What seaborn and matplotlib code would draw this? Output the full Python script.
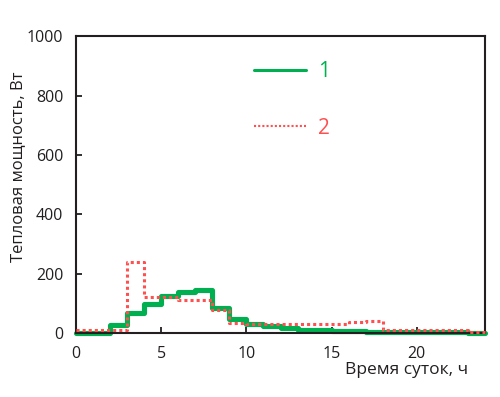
import matplotlib
matplotlib.use("Agg")
import matplotlib.pyplot as plt
from matplotlib.lines import Line2D
import pandas as pd
import seaborn as sns

# hourly heat power, W (step at each hour, last value repeated at 24 h)
hours = list(range(25))
series1 = [0, 0, 26, 68, 98, 125, 139, 145, 85, 48, 32, 24, 16, 11, 11, 7,
           7, 3, 3, 3, 3, 3, 3, 0, 0]
series2 = [12, 12, 12, 240, 120, 120, 110, 110, 77, 33, 30, 30, 30, 30, 30, 30,
           37, 42, 12, 12, 12, 12, 12, 2, 2]
names = ["1", "2"]
colors = ["#00b050", "#ff5050"]
ink = "#231f20"

sns.set_style("ticks")
plt.rcParams["font.family"] = ["Open Sans", "DejaVu Sans"]

df = pd.DataFrame({"t": hours * 2,
                   "p": series1 + series2,
                   "s": [names[0]] * len(hours) + [names[1]] * len(hours)})

fig = plt.figure(figsize=(5.0, 3.97), dpi=100)
ax = fig.add_axes([0.152, 0.161, 0.818, 0.748])

sns.lineplot(data=df[df.s == "1"], x="t", y="p", ax=ax, color=colors[0],
             lw=3.7, drawstyle="steps-post", legend=False, zorder=2,
             clip_on=False)
sns.lineplot(data=df[df.s == "2"], x="t", y="p", ax=ax, color=colors[1],
             lw=2.2, drawstyle="steps-post", legend=False, zorder=3,
             dashes=False, linestyle=(0, (1, 1)), clip_on=False)

ax.set_xlim(0, 24)
ax.set_ylim(0, 1000)
ax.set_xticks([0, 5, 10, 15, 20])
ax.set_yticks([0, 200, 400, 600, 800, 1000])
ax.tick_params(direction="in", length=4, width=1.3, colors=ink,
               labelsize=11.5, pad=9)
for sp in ax.spines.values():
    sp.set_visible(True)
    sp.set_color(ink)
    sp.set_linewidth(1.5)

ax.set_xlabel("Время суток, ч", fontsize=12.5, color=ink, ha="right", va="center")
ax.xaxis.set_label_coords(0.958, -0.125)
ax.set_ylabel("Тепловая мощность, Вт", fontsize=12, color=ink,
              ha="center", va="center")
ax.yaxis.set_label_coords(-0.142, 0.56)

handles = [Line2D([], [], color=colors[0], lw=2.2),
           Line2D([], [], color=colors[1], lw=1.5, linestyle=(0, (1, 1)))]
ax.legend(handles, names, loc="upper left", bbox_to_anchor=(0.435, 0.915),
          frameon=False, fontsize=15, handlelength=2.5, handletextpad=0.6,
          labelspacing=1.7, borderpad=0, borderaxespad=0, labelcolor=colors)

fig.savefig("out.png", dpi=100)
